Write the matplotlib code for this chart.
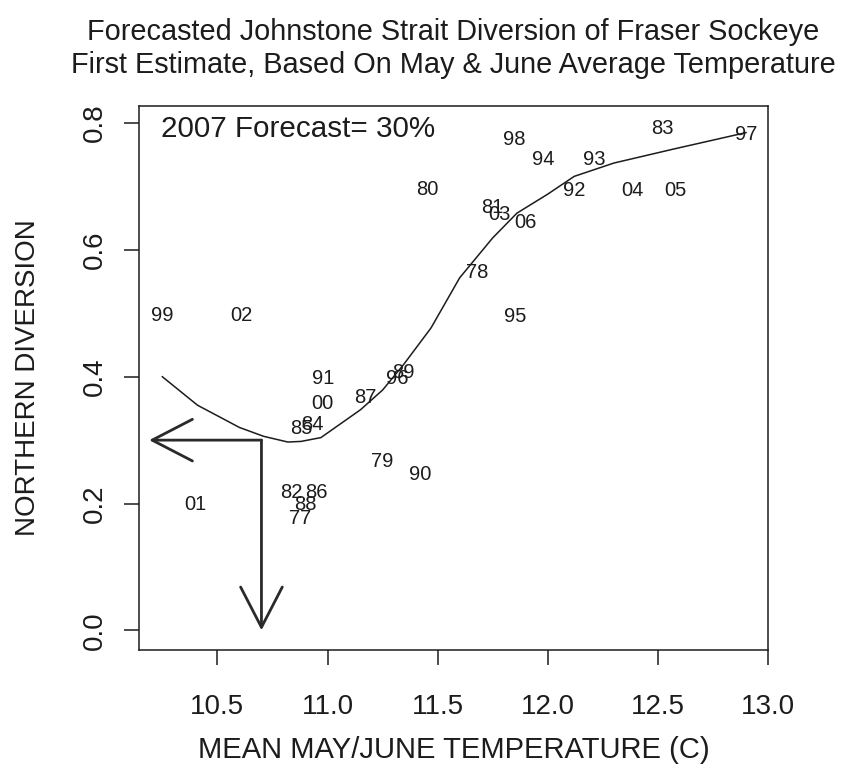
import matplotlib.pyplot as plt

plt.rcParams['font.family'] = ['Liberation Sans', 'DejaVu Sans']

# year labels plotted at (mean May/June temperature, northern diversion)
years = ['99', '02', '01', '80', '98', '94', '93', '83', '97', '92',
         '04', '05', '81', '03', '06', '78', '95', '91', '00', '87',
         '96', '89', '85', '84', '79', '90', '82', '86', '88', '77']
temp = [10.25, 10.61, 10.40, 11.455, 11.85, 11.98, 12.21, 12.52, 12.90, 12.12,
        12.385, 12.58, 11.75, 11.78, 11.90, 11.68, 11.85, 10.98, 10.975, 11.17,
        11.315, 11.345, 10.88, 10.93, 11.25, 11.42, 10.835, 10.95, 10.90, 10.875]
diversion = [0.496, 0.496, 0.198, 0.695, 0.774, 0.743, 0.743, 0.792, 0.782, 0.694,
             0.694, 0.694, 0.667, 0.656, 0.644, 0.565, 0.495, 0.398, 0.358, 0.367,
             0.397, 0.406, 0.318, 0.325, 0.267, 0.246, 0.218, 0.218, 0.199, 0.176]

# smoothed fit
curve_temp = [10.25, 10.41, 10.60, 10.71, 10.82, 10.88, 10.97, 11.15, 11.25,
              11.345, 11.47, 11.60, 11.75, 11.86, 12.00, 12.12, 12.30, 12.57, 12.90]
curve_div = [0.40, 0.355, 0.32, 0.306, 0.297, 0.298, 0.304, 0.348, 0.379,
             0.419, 0.477, 0.556, 0.619, 0.658, 0.688, 0.716, 0.737, 0.759, 0.785]

forecast_temp = 10.7
forecast_div = 0.30
arrow_end = 10.19

ink = '#1c1c1c'

fig = plt.figure(figsize=(8.42, 7.79), dpi=100)
ax = fig.add_axes([139 / 842, 1 - 650 / 779, 629 / 842, 544 / 779])

ax.plot(curve_temp, curve_div, color=ink, lw=1.1)
for t, d, y in zip(temp, diversion, years):
    ax.text(t, d, y, ha='center', va='center', fontsize=14.5, color=ink)

arrow = dict(arrowstyle='->,head_length=1.45,head_width=0.75', color='#2a2a2a',
             lw=2.0, shrinkA=0, shrinkB=0, mutation_scale=20)
ax.annotate('', xy=(arrow_end, forecast_div), xytext=(forecast_temp, forecast_div),
            arrowprops=arrow)
ax.annotate('', xy=(forecast_temp, 0.0), xytext=(forecast_temp, forecast_div),
            arrowprops=arrow)

ax.text(0.035, 0.958, '2007 Forecast= 30%', transform=ax.transAxes,
        ha='left', va='center', fontsize=21.3, color=ink)

ax.set_xlim(10.144, 13.0)
ax.set_ylim(-0.031, 0.827)
ax.set_xticks([10.5, 11.0, 11.5, 12.0, 12.5, 13.0])
ax.set_xticklabels(['10.5', '11.0', '11.5', '12.0', '12.5', '13.0'])
ax.set_yticks([0.0, 0.2, 0.4, 0.6, 0.8])
ax.set_yticklabels(['0.0', '0.2', '0.4', '0.6', '0.8'], rotation=90, va='center')
ax.tick_params(direction='out', length=10.5, width=1.1, labelsize=20,
               colors=ink)
ax.tick_params(axis='x', pad=21)
ax.tick_params(axis='y', pad=12)
for s in ax.spines.values():
    s.set_linewidth(1.1)
    s.set_color(ink)

ax.set_xlabel('MEAN MAY/JUNE TEMPERATURE (C)', fontsize=21, color=ink, labelpad=12)
ax.set_ylabel('NORTHERN DIVERSION', fontsize=20, color=ink, labelpad=29)

fig.text(453.5 / 842, 1 - 32 / 779,
         'Forecasted Johnstone Strait Diversion of Fraser Sockeye',
         ha='center', va='center', fontsize=20.8, color=ink)
fig.text(453.5 / 842, 1 - 65 / 779,
         'First Estimate, Based On May & June Average Temperature',
         ha='center', va='center', fontsize=20.8, color=ink)

fig.savefig('out.png', dpi=100)
